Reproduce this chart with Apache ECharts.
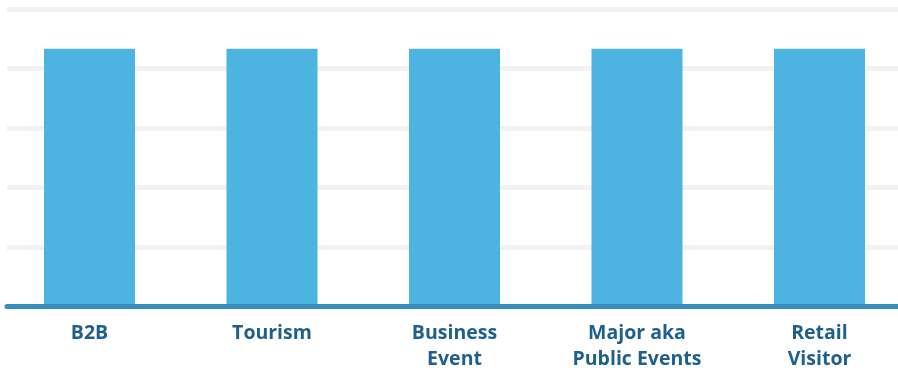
<!DOCTYPE html>
<html><head><meta charset="utf-8">
<script src="https://cdn.jsdelivr.net/npm/echarts@6/dist/echarts.min.js"></script>
<style>html,body{margin:0;padding:0;background:#fff}#c{width:898px;height:368px}</style>
</head><body><div id="c"></div>
<script>
const categories = ['B2B', 'Tourism', 'Business\nEvent', 'Major aka\nPublic Events', 'Retail\nVisitor'];
const values = [4.33, 4.33, 4.33, 4.33, 4.33];
const yMin = 0, yMax = 5, yStep = 1;

const chart = echarts.init(document.getElementById('c'), null, {renderer: 'canvas'});
chart.setOption({
  animation: false,
  grid: [
    {left: 7, right: 0, top: 9, bottom: 61.5, outerBoundsMode: 'none', containLabel: false},
    {left: -1.75, width: 912.5, top: 9, bottom: 61.5, outerBoundsMode: 'none', containLabel: false}
  ],
  xAxis: [
    {type: 'category', gridIndex: 0, data: categories, z: 5,
     axisLine: {show: true, lineStyle: {color: '#3a8bbf', width: 5}},
     axisTick: {show: false}, axisLabel: {show: false}},
    {type: 'category', gridIndex: 1, data: categories,
     axisLine: {show: false}, axisTick: {show: false},
     axisLabel: {show: true, interval: 0, margin: 14, color: '#1f5f8c',
       fontFamily: 'Open Sans', fontWeight: 'bold', fontSize: 19.5, lineHeight: 26}}
  ],
  yAxis: [
    {type: 'value', gridIndex: 0, min: yMin, max: yMax, interval: yStep,
     axisLine: {show: false}, axisTick: {show: false}, axisLabel: {show: false},
     splitLine: {show: true, lineStyle: {color: '#f2f2f2', width: 5}}},
    {type: 'value', gridIndex: 1, min: yMin, max: yMax, interval: yStep,
     axisLine: {show: false}, axisTick: {show: false}, axisLabel: {show: false},
     splitLine: {show: false}}
  ],
  series: [{
    type: 'bar', xAxisIndex: 1, yAxisIndex: 1, data: values,
    barWidth: 91, itemStyle: {color: '#4db3e1'}
  }]
});
</script></body></html>
